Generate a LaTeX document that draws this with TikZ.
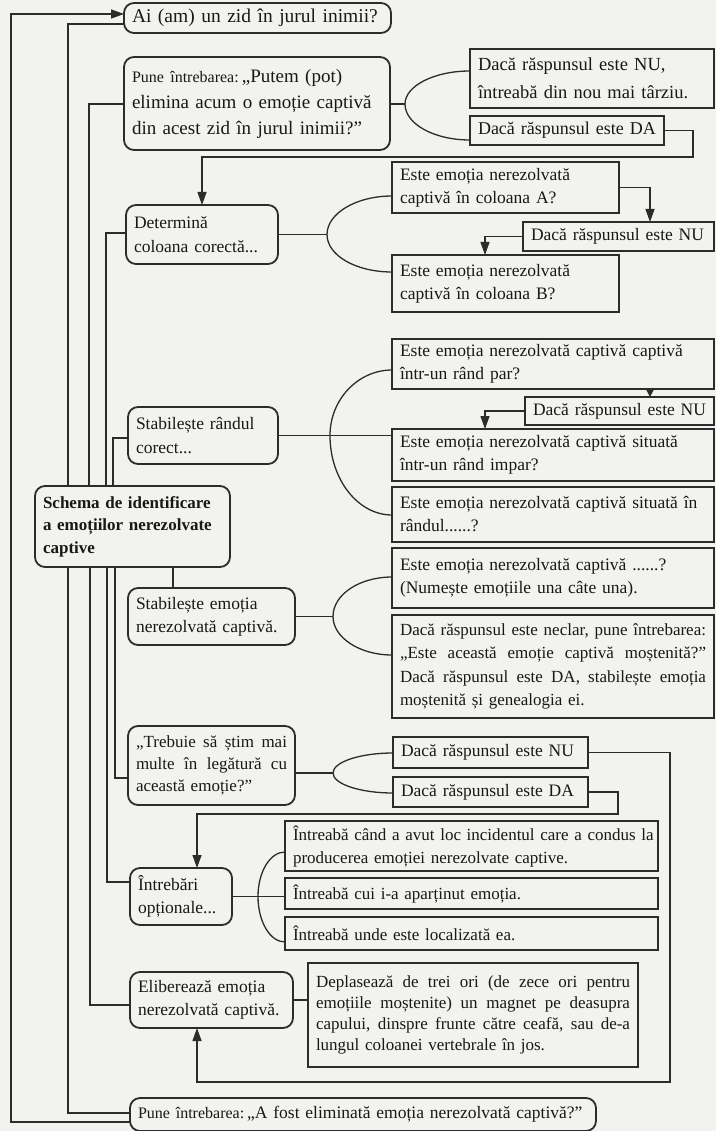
\documentclass[tikz,border=0pt]{standalone}
\usepackage{fontspec}
\setmainfont{Liberation Serif}
\usetikzlibrary{arrows.meta}
\definecolor{bg}{HTML}{F2F2EF}
\definecolor{lc}{HTML}{2C2C2C}
\definecolor{tc}{HTML}{181818}
\newcommand{\fsz}[2]{\fontsize{#1pt}{#2pt}\selectfont}
\newcommand{\jline}[2]{\makebox[#1][s]{\spaceskip=0.3333em plus 2em minus 0.05em\xspaceskip=0.3333em plus 2em minus 0.05em\relax #2}}
\begin{document}
\begin{tikzpicture}[x=1pt,y=-1pt,
  base/.style={draw=lc, line width=1.8pt, anchor=north west, outer sep=0pt, inner xsep=8pt, inner ysep=0pt, align=left, text=tc},
  rbox/.style={base, rounded corners=10pt},
  sbox/.style={base},
  conn/.style={draw=lc, line width=1.3pt},
  arr/.style={conn, -{Triangle[length=13pt,width=9pt]}},
  sarr/.style={conn, -{Triangle[length=7pt,width=7pt]}},
]
\fill[bg] (0,0) rectangle (716,1131);
\clip (0,0) rectangle (716,1131);

% ---------- nodes ----------
\node[rbox, text width=251pt, minimum height=30pt, font=\fsz{19.5}{23}] (ai) at (124,3) {\mbox{Ai (am) un zid în jurul inimii?}};
\node[rbox, text width=250pt, minimum height=93pt, font=\fsz{19}{26}] (putem) at (124,57) {\mbox{{\fsz{16}{26}Pune întrebarea:}\,„Putem (pot)}\\\mbox{elimina acum o emoție captivă}\\\mbox{din acest zid în jurul inimii?”}};
\node[sbox, text width=228pt, minimum height=59pt, font=\fsz{18.5}{28}] (nu1) at (470,49) {\mbox{Dacă răspunsul este NU,}\\\mbox{întreabă din nou mai târziu.}};
\node[sbox, text width=178pt, minimum height=29pt, font=\fsz{18}{22}] (da1) at (470,116) {\mbox{Dacă răspunsul este DA}};

\node[rbox, text width=136pt, minimum height=59pt, font=\fsz{17.5}{24}] (det) at (126,205) {\mbox{Determină}\\\mbox{coloana corectă...}};
\node[sbox, text width=211pt, minimum height=51pt, font=\fsz{17.5}{23}] (colA) at (392,162) {\mbox{Este emoția nerezolvată}\\\mbox{captivă în coloana A?}};
\node[sbox, text width=175pt, minimum height=29pt, font=\fsz{17.5}{22}] (nu2) at (523,222) {\mbox{Dacă răspunsul este NU}};
\node[sbox, text width=211pt, minimum height=57pt, font=\fsz{17.5}{23}] (colB) at (392,255) {\mbox{Este emoția nerezolvată}\\\mbox{captivă în coloana B?}};

\node[sbox, text width=306pt, minimum height=50pt, font=\fsz{17.5}{23}] (par) at (392,339) {\mbox{Este emoția nerezolvată captivă captivă}\\\mbox{într-un rând par?}};
\node[sbox, text width=173pt, minimum height=28pt, font=\fsz{17.5}{22}] (nu3) at (525,397) {\mbox{Dacă răspunsul este NU}};
\node[sbox, text width=306pt, minimum height=52pt, font=\fsz{17.5}{23}] (impar) at (392,429) {\mbox{Este emoția nerezolvată captivă situată}\\\mbox{într-un rând impar?}};
\node[sbox, text width=306pt, minimum height=55pt, font=\fsz{17.5}{23}] (randul) at (392,487) {\mbox{Este emoția nerezolvată captivă situată în}\\\mbox{rândul......?}};
\node[rbox, text width=134pt, minimum height=57pt, font=\fsz{17.5}{24}] (rand) at (128,407) {\mbox{Stabilește rândul}\\\mbox{corect...}};

\node[rbox, text width=179pt, minimum height=81pt, font=\bfseries\fsz{17}{22.5}] (schema) at (35,486) {\mbox{Schema de identificare}\\\mbox{a emoțiilor nerezolvate}\\\mbox{captive}};

\node[sbox, text width=306pt, minimum height=60pt, font=\fsz{17.5}{23}] (numeste) at (392,548) {\mbox{Este emoția nerezolvată captivă ......?}\\\mbox{(Numește emoțiile una câte una).}};
\node[sbox, text width=306pt, minimum height=103pt, font=\fsz{17}{23.5}] (neclar) at (392,615) {\jline{306pt}{Dacă răspunsul este neclar, pune întrebarea:}\\\jline{306pt}{„Este această emoție captivă moștenită?”}\\\jline{306pt}{Dacă răspunsul este DA, stabilește emoția}\\\mbox{moștenită și genealogia ei.}};
\node[rbox, text width=151pt, minimum height=57pt, font=\fsz{17.5}{23}] (stemo) at (128,588) {\mbox{Stabilește emoția}\\\mbox{nerezolvată captivă.}};

\node[rbox, text width=151pt, minimum height=79pt, font=\fsz{17}{22}] (trebuie) at (128,726) {\jline{151pt}{„Trebuie să știm mai}\\\jline{151pt}{multe în legătură cu}\\\mbox{această emoție?”}};
\node[sbox, text width=179pt, minimum height=31pt, font=\fsz{17.5}{22}] (nu4) at (393,737) {\mbox{Dacă răspunsul este NU}};
\node[sbox, text width=179pt, minimum height=30pt, font=\fsz{17.5}{22}] (da4) at (393,777) {\mbox{Dacă răspunsul este DA}};

\node[rbox, text width=86pt, minimum height=57pt, font=\fsz{17.5}{23}] (intrebari) at (130,868) {\mbox{Întrebări}\\\mbox{opționale...}};
\node[sbox, text width=357pt, minimum height=50pt, font=\fsz{17}{23}] (cand) at (285,821) {\mbox{Întreabă când a avut loc incidentul care a condus la}\\\mbox{producerea emoției nerezolvate captive.}};
\node[sbox, text width=357pt, minimum height=31pt, font=\fsz{17}{22}] (cui) at (285,878) {\mbox{Întreabă cui i-a aparținut emoția.}};
\node[sbox, text width=357pt, minimum height=33pt, font=\fsz{17}{22}] (unde) at (285,917) {\mbox{Întreabă unde este localizată ea.}};

\node[rbox, text width=147pt, minimum height=56pt, font=\fsz{17.5}{23}] (elib) at (130,972) {\mbox{Eliberează emoția}\\\mbox{nerezolvată captivă.}};
\node[sbox, text width=314pt, minimum height=104pt, font=\fsz{17}{21}] (depl) at (308,963) {\jline{314pt}{Deplasează de trei ori (de zece ori pentru}\\\jline{314pt}{emoțiile moștenite) un magnet pe deasupra}\\\jline{314pt}{capului, dinspre frunte către ceafă, sau de-a}\\\mbox{lungul coloanei vertebrale în jos.}};

\node[rbox, text width=450pt, minimum height=33pt, font=\fsz{17.5}{22}] (final) at (130,1098) {\mbox{{\fsz{16}{22}Pune întrebarea:}\,„A fost eliminată emoția nerezolvată captivă?”}};

% ---------- loop back ----------
\draw[arr] (final.west |- 0,1122) -- (11,1122) -- (11,14) -- (ai.west |- 0,14);

% ---------- tree from schema ----------
\draw[conn] (schema.north -| 68,0) |- (ai.west |- 0,24);
\draw[conn] (schema.south -| 68,0) |- (final.west |- 0,1113);
\draw[conn] (schema.north -| 89,0) |- (putem.west |- 0,104);
\draw[conn] (schema.south -| 90,0) |- (elib.west |- 0,1005);
\draw[conn] (schema.north -| 106,0) |- (det.west |- 0,233);
\draw[conn] (schema.south -| 107,0) |- (intrebari.west |- 0,882);
\draw[conn] (schema.north -| 113,0) |- (rand.west |- 0,438);
\draw[conn] (schema.south -| 115,0) |- (trebuie.west |- 0,778);
\draw[conn] (schema.south -| 173,0) -- (stemo.north -| 173,0);

% ---------- brackets ----------
\coordinate (b1) at (405,104);
\draw[conn] (putem.east |- b1) -- (b1);
\draw[conn] (nu1.west |- 0,71) .. controls (434,71) and (405,86) .. (b1) .. controls (405,124) and (434,140) .. (da1.west |- 0,140);

\coordinate (b2) at (327,234.5);
\draw[conn] (det.east) -- (b2);
\draw[conn] (colA.west |- 0,196) .. controls (356,196) and (327,213.5) .. (b2) .. controls (327,255.5) and (356,272) .. (colB.west |- 0,272);

\coordinate (b3) at (330,435.5);
\draw[conn] (rand.east) -- (impar.west |- rand.east);
\draw[conn] (par.west |- 0,370) .. controls (358,370) and (330,399.5) .. (b3) .. controls (330,479.5) and (358,515) .. (randul.west |- 0,515);

\coordinate (b4) at (333,616.5);
\draw[conn] (stemo.east) -- (b4);
\draw[conn] (numeste.west |- 0,577) .. controls (359.5,577) and (333,594.5) .. (b4) .. controls (333,637.5) and (359.5,655) .. (neclar.west |- 0,655);

\coordinate (b5) at (333,773);
\draw[conn] (trebuie.east |- b5) -- (b5);
\draw[conn] (nu4.west |- 0,753) .. controls (360,753) and (333,762) .. (b5) .. controls (333,784) and (360,793) .. (da4.west |- 0,793);

\coordinate (b6) at (258,896.5);
\draw[conn] (intrebari.east) -- (cui.west |- intrebari.east);
\draw[conn] (cand.west |- 0,852) .. controls (270,852) and (258,872) .. (b6) .. controls (258,921.5) and (270,942) .. (unde.west |- 0,942);

\draw[conn] (elib.east) -- (depl.west |- elib.east);

% ---------- flow arrows ----------
\draw[arr] (da1.east) -| (693,157) -| (det.north);
\draw[arr] (colA.east) -| (nu2.north -| 650,0);
\draw[arr] (nu2.west) -| (colB.north -| 485,0);
\draw[sarr] (par.south -| 650,0) -- (nu3.north -| 650,0);
\draw[arr] (nu3.west) -| (impar.north -| 485,0);
\draw[arr] (nu4.east) -| (670,1082) -| (elib.south -| 197,0);
\draw[arr] (da4.east) -| (618,814) -| (intrebari.north -| 197,0);
\end{tikzpicture}
\end{document}
